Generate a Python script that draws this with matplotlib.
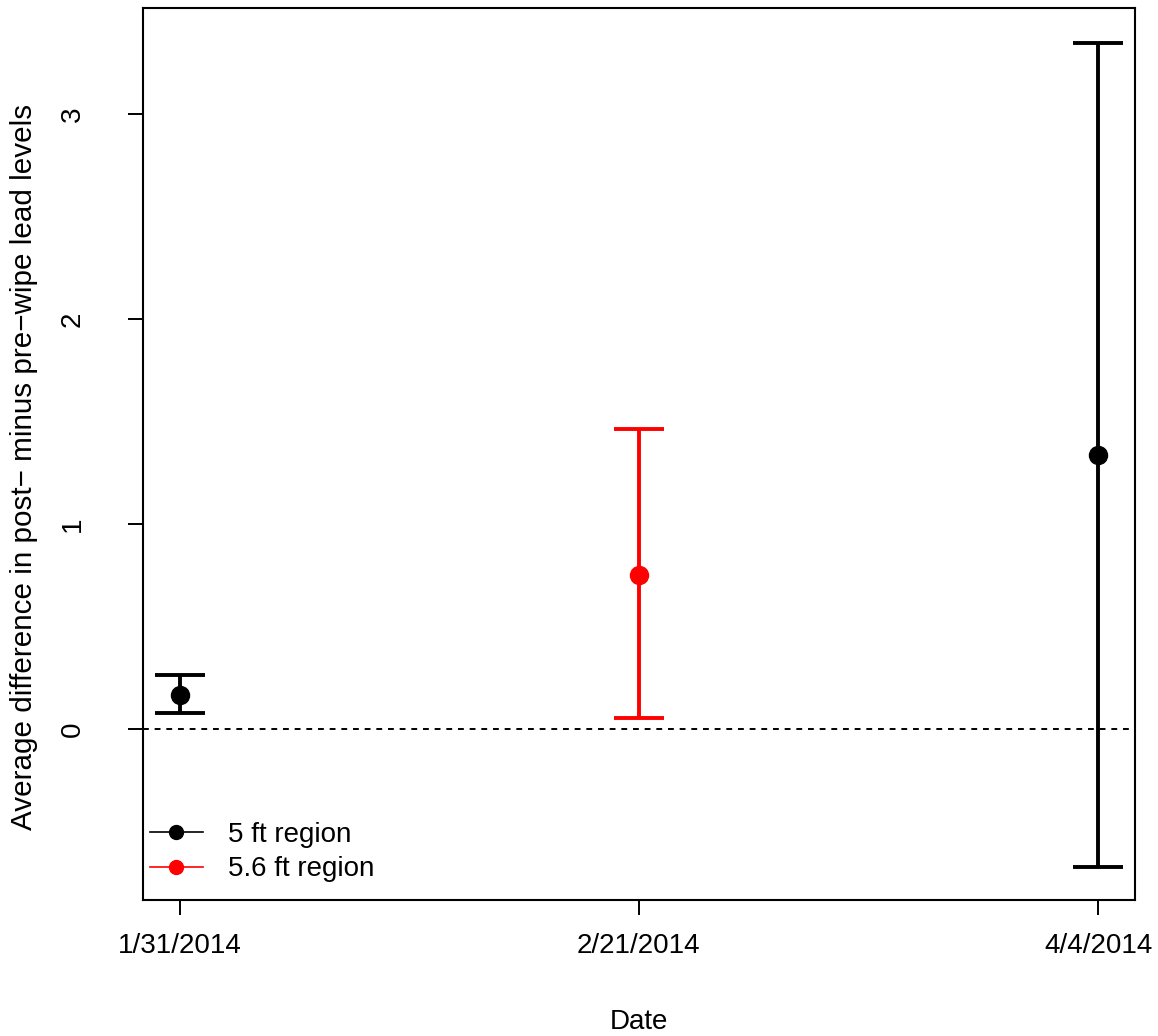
import matplotlib
matplotlib.use('Agg')
import matplotlib.pyplot as plt
from matplotlib.lines import Line2D

plt.rcParams['font.family'] = ['Liberation Sans', 'DejaVu Sans']

# data
dates = ['1/31/2014', '2/21/2014', '4/4/2014']
means = [0.166, 0.751, 1.337]
lower = [0.078, 0.054, -0.673]
upper = [0.263, 1.463, 3.346]
colors = ['black', 'red', 'black']
legend_labels = ['5 ft region', '5.6 ft region']
legend_colors = ['black', 'red']

fig = plt.figure(figsize=(11.58, 10.36), dpi=100)
ax = fig.add_axes([0.1235, 0.1313, 0.8565, 0.861])

xs = list(range(1, len(dates) + 1))
for x, m, lo, hi, c in zip(xs, means, lower, upper, colors):
    ax.errorbar([x], [m], yerr=[[m - lo], [hi - m]], fmt='o', color=c,
                ecolor=c, elinewidth=2.8, capsize=18, capthick=2.8,
                markersize=13)

ax.axhline(0, color='black', linestyle=(0, (3, 3)), linewidth=1.4)

ax.set_xlim(0.92, 3.08)
ax.set_ylim(-0.834, 3.517)
ax.set_xticks(xs)
ax.set_xticklabels(dates)
ax.set_yticks([0, 1, 2, 3])
ax.tick_params(axis='both', labelsize=20, length=11, width=1.4, direction='out')
ax.tick_params(axis='y', labelrotation=90, pad=30)
ax.tick_params(axis='x', pad=13)
for lbl in ax.get_yticklabels():
    lbl.set_verticalalignment('center')
for s in ax.spines.values():
    s.set_linewidth(1.5)

ax.set_xlabel('Date', fontsize=20, labelpad=36)
ax.set_ylabel('Average difference in post\u2212 minus pre\u2212wipe lead levels',
              fontsize=21.3)
ax.yaxis.set_label_coords(-0.106, 0.485)

handles = [Line2D([0], [0], color=c, marker='o', markersize=10, linewidth=1.2)
           for c in legend_colors]
ax.legend(handles, legend_labels, loc='lower left', frameon=False,
          fontsize=20, handlelength=1.9, handletextpad=0.9,
          borderaxespad=0.0, borderpad=0.25, labelspacing=0.3,
          bbox_to_anchor=(0, 0.012))

fig.savefig('out.png', dpi=100)
